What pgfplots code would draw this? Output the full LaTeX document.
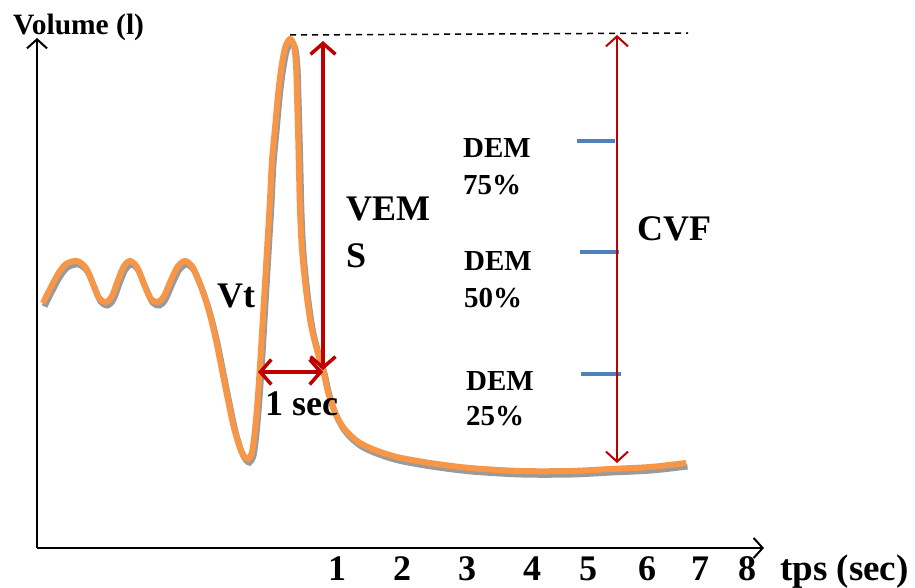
\documentclass[border=0pt]{standalone}
\usepackage{fontspec}
\setmainfont{Liberation Serif}
\usepackage{pgfplots}
\pgfplotsset{compat=1.18}
\usepackage{pgfplotstable}
\usetikzlibrary{arrows.meta}
\definecolor{curveorange}{HTML}{F79646}
\definecolor{shadowgray}{HTML}{9A9A9A}
\definecolor{arrowred}{HTML}{C00000}
\definecolor{tickblue}{HTML}{4F81BD}

\pgfplotstableread{
x y
43 303
50 289
58 274
66 264
77 261
86 268
93 284
99 298
106 302
112 296
118 280
124 266
130 261
137 267
144 284
151 299
158 302
164 296
171 280
178 266
185 261
192 266
198 279
204 295
210 315
216 340
222 370
228 400
234 428
240 448
244 456
248 459
252 452
255 430
258 395
261 350
264 300
267 250
270 200
272 160
275 128
278 95
281 70
285 48
290 39
294 46
296 65
297 95
298 130
299 170
300 210
302 250
306 290
311 325
317 350
323 370
328 392
334 410
341 424
349 434
360 443
375 450
397 457
430 463
470 468
520 471
570 471
610 469
650 467
686 463
}\curve

\newcommand{\bigfnt}{\fontsize{36}{40}\bfseries\selectfont}
\newcommand{\midfnt}{\fontsize{29}{32}\bfseries\selectfont}

\begin{document}
\begin{tikzpicture}
\begin{axis}[width=915pt,height=588pt,scale only axis,
  xmin=0,xmax=915,ymin=0,ymax=588,y dir=reverse,
  hide axis,clip=false]
% invisible frame to fix the bounding box
\addplot[draw=none] coordinates {(0,0) (915,588)};
% named points for the annotation arrows
\coordinate (O) at (axis cs:37,548);
\coordinate (Ytop) at (axis cs:37,38);
\coordinate (Xend) at (axis cs:764,548);
\coordinate (V1) at (axis cs:323,41);
\coordinate (V2) at (axis cs:323,370);
\coordinate (S1) at (axis cs:258,372);
\coordinate (S2) at (axis cs:323,372);
\coordinate (C1) at (axis cs:617,35);
\coordinate (C2) at (axis cs:617,463);
% curve with shadow
\addplot[shadowgray,line width=6pt,smooth,tension=0.5]
  table[x expr=\thisrow{x}+1.5,y expr=\thisrow{y}+3.5] {\curve};
\addplot[curveorange,line width=6pt,smooth,tension=0.5]
  table[x=x,y=y] {\curve};
% dashed line
\draw[black,line width=1.5pt,dash pattern=on 6pt off 5pt] (axis cs:290,35) -- (axis cs:688,33);
% blue ticks
\addplot[tickblue,line width=4pt] coordinates {(577,141) (615,141)};
\addplot[tickblue,line width=4pt] coordinates {(580,252) (619,252)};
\addplot[tickblue,line width=4pt] coordinates {(581,374) (621,374)};
% texts
\node[anchor=base west,inner sep=0pt,font=\fontsize{29.5}{31}\bfseries\selectfont] at (axis cs:13,35) {Volume (l)};
\node[anchor=base west,inner sep=0pt,font=\bigfnt] at (axis cs:217,307) {Vt};
\node[anchor=base west,inner sep=0pt,font=\bigfnt] at (axis cs:265,415) {1 sec};
\node[anchor=base west,inner sep=0pt,font=\bigfnt] at (axis cs:346,220) {VEM};
\node[anchor=base west,inner sep=0pt,font=\bigfnt] at (axis cs:346,267) {S};
\node[anchor=base west,inner sep=0pt,font=\bigfnt] at (axis cs:637,240) {CVF};
\node[anchor=base west,inner sep=0pt,font=\midfnt] at (axis cs:463,158) {DEM};
\node[anchor=base west,inner sep=0pt,font=\midfnt] at (axis cs:463,195) {75\%};
\node[anchor=base west,inner sep=0pt,font=\midfnt] at (axis cs:464,270) {DEM};
\node[anchor=base west,inner sep=0pt,font=\midfnt] at (axis cs:464,307) {50\%};
\node[anchor=base west,inner sep=0pt,font=\midfnt] at (axis cs:466,390) {DEM};
\node[anchor=base west,inner sep=0pt,font=\midfnt] at (axis cs:466,425) {25\%};
% tick labels
\node[anchor=base,inner sep=0pt,font=\bigfnt] at (axis cs:337,580) {1};
\node[anchor=base,inner sep=0pt,font=\bigfnt] at (axis cs:402,580) {2};
\node[anchor=base,inner sep=0pt,font=\bigfnt] at (axis cs:467,580) {3};
\node[anchor=base,inner sep=0pt,font=\bigfnt] at (axis cs:532,580) {4};
\node[anchor=base,inner sep=0pt,font=\bigfnt] at (axis cs:588,580) {5};
\node[anchor=base,inner sep=0pt,font=\bigfnt] at (axis cs:647,580) {6};
\node[anchor=base,inner sep=0pt,font=\bigfnt] at (axis cs:700,580) {7};
\node[anchor=base,inner sep=0pt,font=\bigfnt] at (axis cs:747,580) {8};
\node[anchor=base west,inner sep=0pt,font=\fontsize{37}{40}\bfseries\selectfont] at (axis cs:780,580) {tps (sec)};
\end{axis}
% arrows drawn on top, outside the axis
\draw[black,line width=2pt,-{Straight Barb[length=9pt,width=20pt]}] (O) -- (Ytop);
\draw[black,line width=2pt,-{Straight Barb[length=9pt,width=20pt]}] (O) -- (Xend);
\draw[arrowred,line width=3.5pt,{Straight Barb[length=11pt,width=25pt]}-{Straight Barb[length=11pt,width=25pt]}] (V1) -- (V2);
\draw[arrowred,line width=3.5pt,{Straight Barb[length=11pt,width=25pt]}-{Straight Barb[length=11pt,width=25pt]}] (S1) -- (S2);
\draw[arrowred,line width=2pt,{Straight Barb[length=10pt,width=22pt]}-{Straight Barb[length=10pt,width=22pt]}] (C1) -- (C2);
\end{tikzpicture}
\end{document}
